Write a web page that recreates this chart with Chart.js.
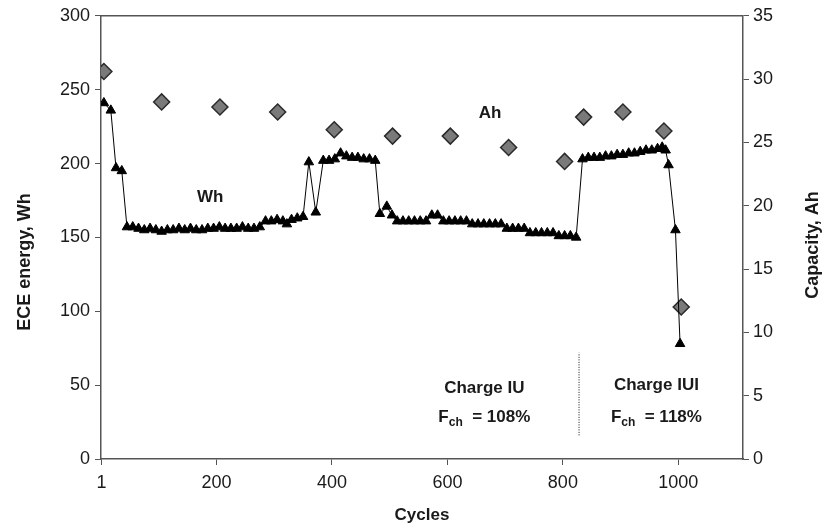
<!DOCTYPE html>
<html>
<head>
<meta charset="utf-8">
<script src="https://cdn.jsdelivr.net/npm/chart.js@4"></script>
<style>
  html, body { margin: 0; padding: 0; background: #fff; }
  #wrap { width: 827px; height: 530px; }
</style>
</head>
<body>
<div id="wrap"><canvas id="chart" width="827" height="530"></canvas></div>
<script>
// ── Data ─────────────────────────────────────────────────────────
const whCycles = [5, 17, 26, 36, 45, 55, 65, 75, 85, 95, 105, 115, 125, 135, 145, 155, 165, 175, 185, 195,
  205, 215, 225, 235, 245, 255, 265, 275, 285, 295, 305, 315, 322, 330, 340, 350, 360, 372, 385, 395,
  405, 415, 425, 435, 445, 455, 465, 475, 483, 495, 504, 513, 523, 533, 543, 553, 563, 573, 583, 593,
  603, 613, 623, 633, 643, 653, 663, 673, 683, 693, 703, 713, 723, 733, 743, 753, 763, 773, 783, 793,
  803, 813, 823, 834, 844, 854, 864, 874, 884, 894, 904, 914, 924, 934, 944, 954, 964, 972, 978, 983,
  995, 1003];
const whValues = [241, 236, 197, 195, 157, 157, 156, 155, 156, 155, 154, 155, 155, 156, 155, 156, 155, 155, 156, 156,
  157, 156, 156, 156, 157, 156, 156, 157, 161, 161, 162, 161, 159, 162, 163, 164, 201, 167, 202, 202,
  203, 207, 205, 204, 204, 203, 203, 202, 166, 171, 165, 161, 161, 161, 161, 161, 161, 165, 165, 161,
  161, 161, 161, 161, 159, 159, 159, 159, 159, 159, 156, 156, 156, 156, 153, 153, 153, 153, 153, 151,
  151, 151, 150, 203, 204, 204, 204, 205, 205, 206, 206, 207, 207, 208, 209, 209, 210, 211, 209, 199,
  155, 78];

const ahCycles = [5, 105, 206, 306, 404, 505, 605, 706, 803, 836, 904, 975, 1005];
const ahValues = [30.6, 28.2, 27.8, 27.4, 26.0, 25.5, 25.5, 24.6, 23.5, 27.0, 27.4, 25.9, 12.0];

const xTicks = [1, 200, 400, 600, 800, 1000];
const divider = { cycle: 828, from: 16, to: 72 };

// ── Styling ──────────────────────────────────────────────────────
const FONT = "'Liberation Sans', Arial, sans-serif";
const AXIS = '#555';
const TEXT = '#1a1a1a';

const labels = [
  { text: 'Wh', x: 189, y: 177 },
  { text: 'Ah', x: 674, y: 234 },
  { text: 'Charge IU', x: 664, y: 48 },
  { text: 'Charge IUI', x: 962, y: 50 },
];
const fch = [
  { value: '108%', x: 664, y: 28 },
  { value: '118%', x: 962, y: 28 },
];

const frame = {
  id: 'frame',
  afterDraw(chart) {
    const { ctx, chartArea: a, scales } = chart;
    ctx.save();
    ctx.strokeStyle = AXIS;
    ctx.lineWidth = 1.5;
    ctx.beginPath();
    ctx.moveTo(a.left, a.top);
    ctx.lineTo(a.right, a.top);
    ctx.stroke();

    ctx.fillStyle = TEXT;
    ctx.textAlign = 'center';
    ctx.textBaseline = 'middle';
    ctx.font = `bold 17px ${FONT}`;
    labels.forEach(l => {
      ctx.fillText(l.text, scales.x.getPixelForValue(l.x), scales.y.getPixelForValue(l.y));
    });

    fch.forEach(f => {
      const cx = scales.x.getPixelForValue(f.x);
      const cy = scales.y.getPixelForValue(f.y);
      ctx.font = `bold 17px ${FONT}`;
      const wF = ctx.measureText('F').width;
      const rest = '  = ' + f.value;
      const wR = ctx.measureText(rest).width;
      ctx.font = `bold 12px ${FONT}`;
      const wS = ctx.measureText('ch').width;
      const x0 = cx - (wF + wS + wR) / 2;
      ctx.textAlign = 'left';
      ctx.font = `bold 17px ${FONT}`;
      ctx.fillText('F', x0, cy);
      ctx.font = `bold 12px ${FONT}`;
      ctx.fillText('ch', x0 + wF, cy + 5);
      ctx.font = `bold 17px ${FONT}`;
      ctx.fillText(rest, x0 + wF + wS, cy);
      ctx.textAlign = 'center';
    });

    // axis titles, both read bottom-to-top as in the figure
    ctx.font = `bold 18px ${FONT}`;
    [['ECE energy, Wh', 25, 262], ['Capacity, Ah', 813, 245]].forEach(([t, x, y]) => {
      ctx.save();
      ctx.translate(x, y);
      ctx.rotate(-Math.PI / 2);
      ctx.fillText(t, 0, 0);
      ctx.restore();
    });
    ctx.restore();
  },
};

const tickFont = { family: FONT, size: 18 };

new Chart(document.getElementById('chart'), {
  type: 'line',
  data: {
    datasets: [
      {
        label: 'Wh',
        data: whCycles.map((c, i) => ({ x: c, y: whValues[i] })),
        borderColor: '#000',
        borderWidth: 1,
        pointStyle: 'triangle',
        pointRadius: 5.5,
        pointBackgroundColor: '#000',
        pointBorderColor: '#000',
        pointBorderWidth: 1,
        yAxisID: 'y',
      },
      {
        label: 'Ah',
        data: ahCycles.map((c, i) => ({ x: c, y: ahValues[i] })),
        showLine: false,
        pointStyle: 'rectRot',
        pointRadius: 8,
        pointBackgroundColor: '#7a7a7a',
        pointBorderColor: '#2a2a2a',
        pointBorderWidth: 1.5,
        yAxisID: 'y1',
      },
      {
        label: 'divider',
        data: [{ x: divider.cycle, y: divider.from }, { x: divider.cycle, y: divider.to }],
        borderColor: '#111',
        borderWidth: 1,
        borderDash: [1, 1.5],
        pointRadius: 0,
        yAxisID: 'y',
      },
    ],
  },
  options: {
    responsive: false,
    animation: false,
    layout: { padding: { top: 15, right: 0, left: 0, bottom: 0 } },
    plugins: { legend: { display: false }, tooltip: { enabled: false } },
    scales: {
      x: {
        type: 'linear',
        min: 0,
        max: 1112,
        afterBuildTicks: (s) => { s.ticks = xTicks.map(v => ({ value: v })); },
        afterFit: (s) => { s.height = 71; },
        border: { color: AXIS, width: 1.5 },
        grid: { drawOnChartArea: false, color: AXIS, tickLength: 6, lineWidth: 1 },
        ticks: { color: TEXT, font: tickFont, padding: 7, maxRotation: 0, callback: (v) => String(v) },
        title: { display: true, text: 'Cycles', color: TEXT, font: { family: FONT, size: 17, weight: 'bold' }, padding: { top: 14 } },
      },
      y: {
        position: 'left',
        min: 0,
        max: 300,
        afterFit: (s) => { s.width = 101; },
        border: { color: AXIS, width: 1.5 },
        grid: { drawOnChartArea: false, color: AXIS, tickLength: 6 },
        ticks: { stepSize: 50, color: TEXT, font: tickFont, padding: 5 },
      },
      y1: {
        position: 'right',
        min: 0,
        max: 35,
        afterFit: (s) => { s.width = 84; },
        border: { color: AXIS, width: 1.5 },
        grid: { drawOnChartArea: false, color: AXIS, tickLength: 6 },
        ticks: { stepSize: 5, color: TEXT, font: tickFont, padding: 4 },
      },
    },
  },
  plugins: [frame],
});
</script>
</body>
</html>
